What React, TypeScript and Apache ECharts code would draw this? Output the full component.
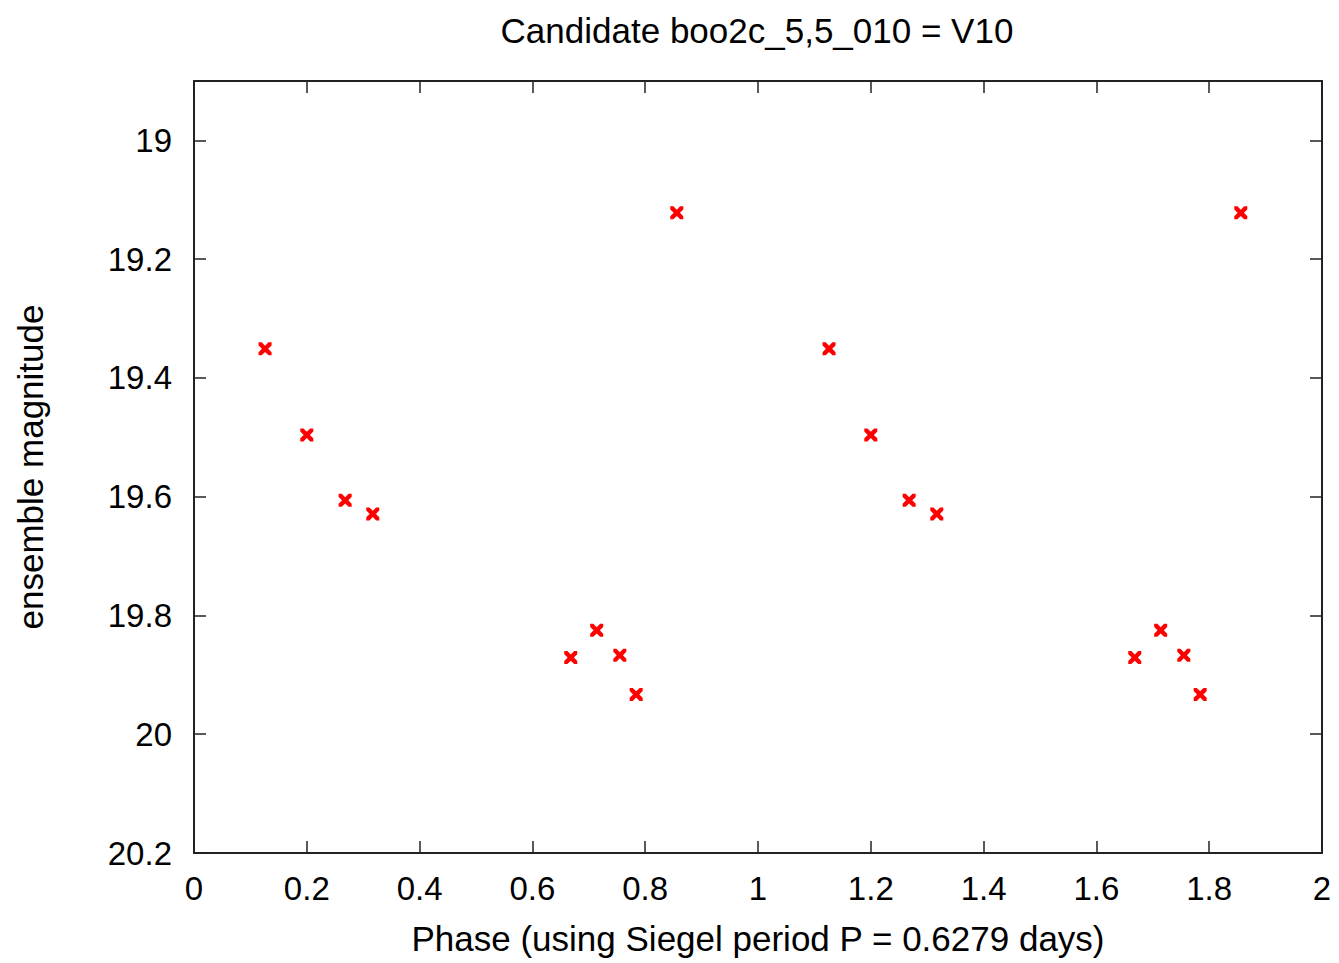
import React, { useEffect, useRef } from "react";
import * as echarts from "echarts";

const titleText = "Candidate boo2c_5,5_010 = V10";
const xAxisName = "Phase (using Siegel period P = 0.6279 days)";
const yAxisName = "ensemble magnitude";

// Phase values (two folded cycles as plotted)
const phases = [
  0.126, 0.2, 0.268, 0.317, 0.668, 0.714, 0.755, 0.784, 0.856,
  1.126, 1.2, 1.268, 1.317, 1.668, 1.714, 1.755, 1.784, 1.856,
];
const magnitudes = [
  19.351, 19.496, 19.606, 19.629, 19.871, 19.825, 19.867, 19.933, 19.122,
  19.351, 19.496, 19.606, 19.629, 19.871, 19.825, 19.867, 19.933, 19.122,
];

const yTicks = [19, 19.2, 19.4, 19.6, 19.8, 20, 20.2];
const xTicks = [0, 0.2, 0.4, 0.6, 0.8, 1, 1.2, 1.4, 1.6, 1.8, 2];

const FONT = "Liberation Sans";
const AXIS_COLOR = "#222";

const crossPath =
  "path://M0,0 L2.4,0 L5,2.6 L7.6,0 L10,0 L10,2.4 L7.4,5 L10,7.6 L10,10 L7.6,10 L5,7.4 L2.4,10 L0,10 L0,7.6 L2.6,5 L0,2.4 Z";

export default function App() {
  const ref = useRef<HTMLDivElement>(null);

  useEffect(() => {
    if (!ref.current) return;
    const chart = echarts.init(ref.current, undefined, { renderer: "svg" });
    const data = phases.map((p, i) => [p, magnitudes[i]]);

    const baseX = {
      type: "value",
      min: 0,
      max: 2,
      interval: 0.2,
      splitLine: { show: false },
      axisLine: { show: true, onZero: false, lineStyle: { color: AXIS_COLOR, width: 2 } },
      axisTick: { show: true, inside: true, length: 12, lineStyle: { color: AXIS_COLOR, width: 1.5 }, customValues: xTicks },
    };
    const baseY = {
      type: "value",
      min: 18.9,
      max: 20.2,
      inverse: true,
      splitLine: { show: false },
      axisLine: { show: true, onZero: false, lineStyle: { color: AXIS_COLOR, width: 2 } },
      axisTick: { show: true, inside: true, length: 12, lineStyle: { color: AXIS_COLOR, width: 1.5 }, customValues: yTicks },
    };

    chart.setOption({
      animation: false,
      backgroundColor: "#ffffff",
      title: {
        text: titleText,
        left: 752,
        top: 8,
        textAlign: "center",
        textStyle: { fontFamily: FONT, fontSize: 35, fontWeight: "normal", color: "#000" },
      },
      grid: { left: 194, right: 17, top: 81, bottom: 110, containLabel: false },
      xAxis: [
        {
          ...baseX,
          position: "bottom",
          name: xAxisName,
          nameLocation: "middle",
          nameGap: 68,
          nameTextStyle: { fontFamily: FONT, fontSize: 35, color: "#000" },
          axisLabel: {
            show: true,
            margin: 19,
            fontFamily: FONT,
            fontSize: 33,
            color: "#000",
            customValues: xTicks,
            formatter: (v: number) => String(Math.round(v * 10) / 10),
          },
        },
        { ...baseX, position: "top", axisLabel: { show: false } },
      ],
      yAxis: [
        {
          ...baseY,
          position: "left",
          name: yAxisName,
          nameLocation: "middle",
          nameGap: 146,
          nameRotate: 90,
          nameTextStyle: { fontFamily: FONT, fontSize: 35, color: "#000" },
          axisLabel: {
            show: true,
            margin: 22,
            fontFamily: FONT,
            fontSize: 33,
            color: "#000",
            customValues: yTicks,
            formatter: (v: number) => String(Math.round(v * 10) / 10),
          },
        },
        { ...baseY, position: "right", axisLabel: { show: false } },
      ],
      series: [
        {
          type: "scatter",
          xAxisIndex: 0,
          yAxisIndex: 0,
          data,
          symbol: crossPath,
          symbolSize: 13,
          itemStyle: { color: "#ff0000", opacity: 1 },
        },
      ],
    });

    return () => chart.dispose();
  }, []);

  return (
    <div
      ref={ref}
      style={{ position: "fixed", left: 0, top: 0, width: 1339, height: 963 }}
    />
  );
}
